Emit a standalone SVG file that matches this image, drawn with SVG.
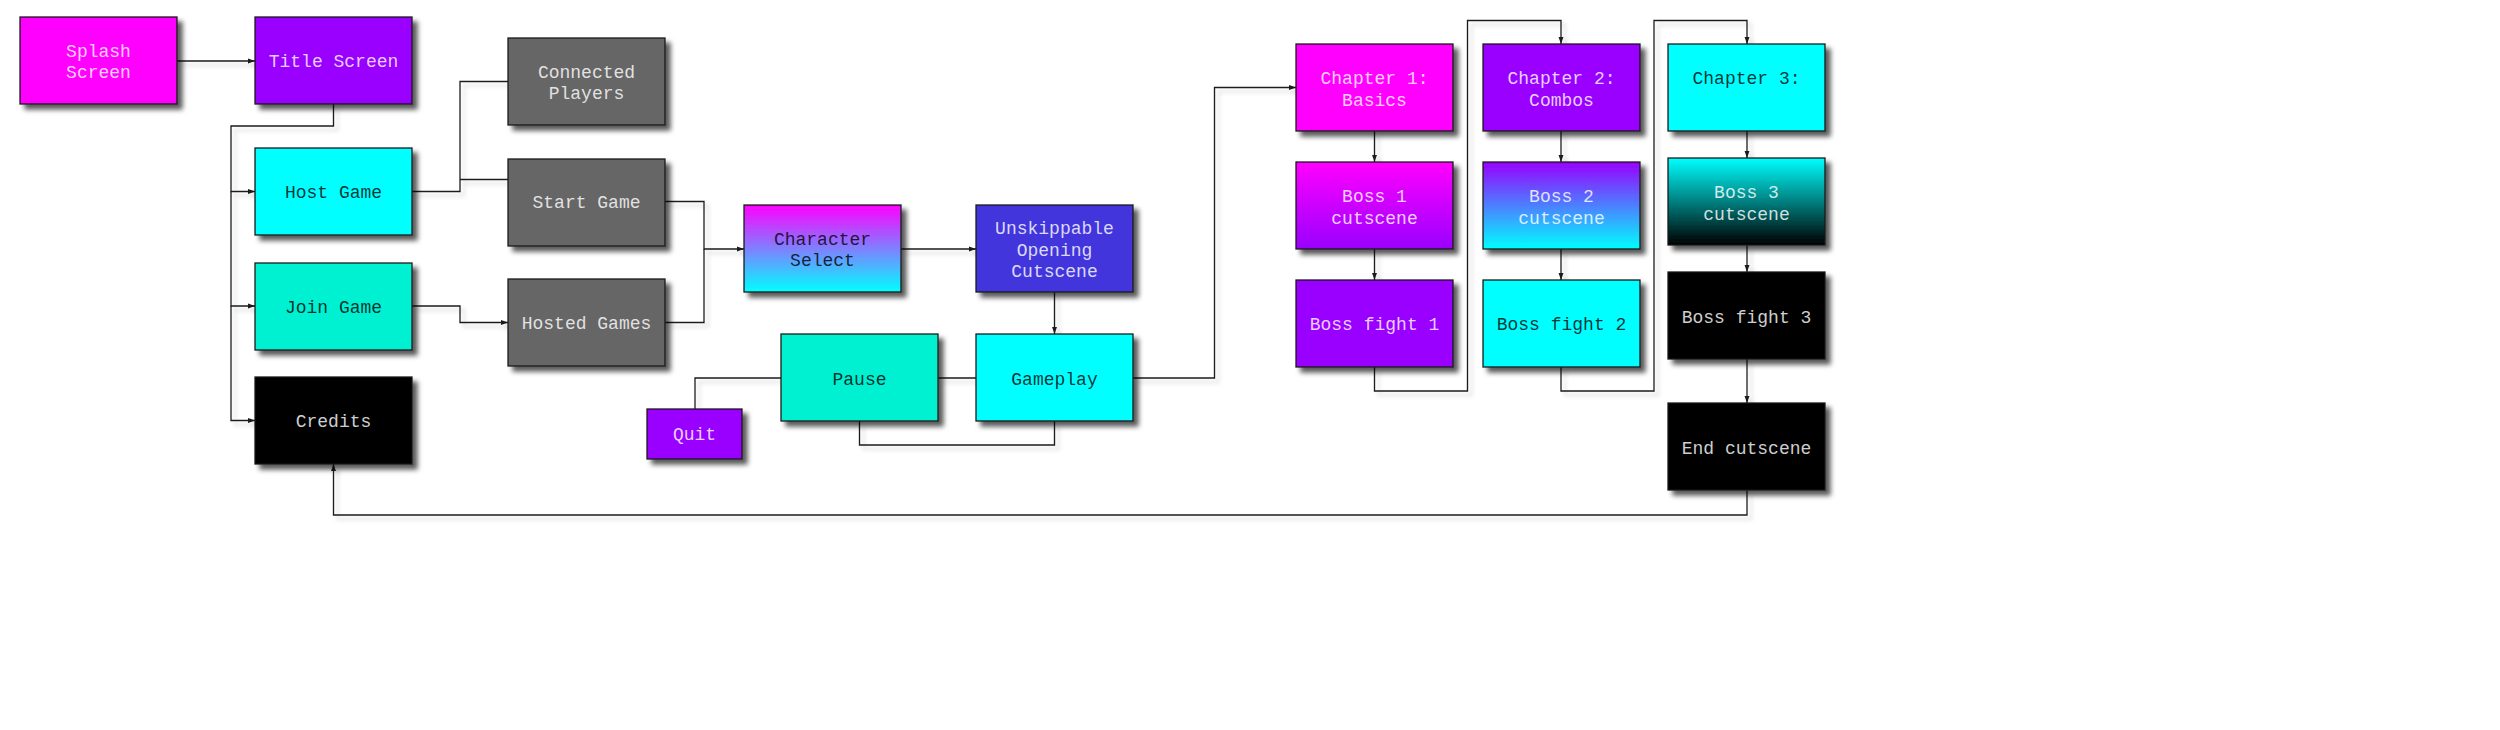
<svg xmlns="http://www.w3.org/2000/svg" width="2500" height="730" viewBox="0 0 2500 730">
<defs>
<style>
.box{stroke:#1a1a1a;stroke-width:1.3;filter:url(#sh)}
.t{font-family:"Liberation Mono","Courier New",monospace;font-size:18px;text-anchor:middle;dominant-baseline:central}
.lt{fill:#ffffff;fill-opacity:0.82}
.dk{fill:#000000;fill-opacity:0.8}
.c{fill:none;stroke:#1a1a1a;stroke-width:1.3}
.a{marker-end:url(#ar)}
</style>
<filter id="sh" x="-10%" y="-10%" width="130%" height="140%">
<feDropShadow dx="5" dy="5" stdDeviation="2.5" flood-color="#000" flood-opacity="0.65"/>
</filter>
<filter id="csh" x="-5%" y="-5%" width="110%" height="115%">
<feDropShadow dx="4" dy="4" stdDeviation="2" flood-color="#000" flood-opacity="0.18"/>
</filter>
<marker id="ar" viewBox="0 0 10 10" refX="10" refY="5" markerWidth="7" markerHeight="7" markerUnits="userSpaceOnUse" orient="auto">
<path d="M0,1.5 L10,5 L0,8.5 z" fill="#1a1a1a"/>
</marker>
<linearGradient id="gCS" x1="0" y1="0" x2="0" y2="1"><stop offset="0" stop-color="#ff00ff"/><stop offset="1" stop-color="#00ffff"/></linearGradient>
<linearGradient id="gB1" x1="0" y1="0" x2="0" y2="1"><stop offset="0" stop-color="#ff00ff"/><stop offset="1" stop-color="#9900ff"/></linearGradient>
<linearGradient id="gB2" x1="0" y1="0" x2="0" y2="1"><stop offset="0" stop-color="#9900ff"/><stop offset="1" stop-color="#00ffff"/></linearGradient>
<linearGradient id="gB3" x1="0" y1="0" x2="0" y2="1"><stop offset="0" stop-color="#00ffff"/><stop offset="1" stop-color="#000000"/></linearGradient>
</defs>
<rect width="2500" height="730" fill="#ffffff"/>

<g id="connectors" filter="url(#csh)">
<path class="c a" d="M177,61 H255"/>
<path class="c a" d="M333.5,104 V126 H231 V191.5 H255"/>
<path class="c a" d="M231,191.5 V306 H255"/>
<path class="c a" d="M231,306 V420.5 H255"/>
<path class="c" d="M412,191.5 H460 V81.5 H508"/>
<path class="c" d="M460,179.5 H508"/>
<path class="c a" d="M412,306 H460 V322.5 H508"/>
<path class="c a" d="M665,201.5 H704 V249 H744"/>
<path class="c" d="M665,322.5 H704 V249"/>
<path class="c a" d="M901,249 H976"/>
<path class="c a" d="M1054.5,292 V334"/>
<path class="c" d="M976,378 H938"/>
<path class="c" d="M781,378 H695 V409"/>
<path class="c" d="M859.5,421 V445 H1054.5 V421"/>
<path class="c a" d="M1133,378 H1214.5 V87.5 H1296"/>
<path class="c a" d="M1374.5,131 V162"/>
<path class="c a" d="M1374.5,249 V280"/>
<path class="c a" d="M1374.5,367 V391 H1467.5 V20.5 H1561 V44"/>
<path class="c a" d="M1561,131 V162"/>
<path class="c a" d="M1561,249 V280"/>
<path class="c a" d="M1561,367 V391 H1654 V20.5 H1747 V44"/>
<path class="c a" d="M1747,131 V158"/>
<path class="c a" d="M1747,245 V272"/>
<path class="c a" d="M1747,359 V403"/>
<path class="c a" d="M1747,490 V515 H333.5 V464"/>
</g>

<g id="splash"><rect class="box" x="20" y="17" width="157" height="87" fill="#ff00ff"/><text class="t lt" x="98.5" y="51.5">Splash</text><text class="t lt" x="98.5" y="73">Screen</text></g>
<g id="title"><rect class="box" x="255" y="17" width="157" height="87" fill="#9900ff"/><text class="t lt" x="333.5" y="62">Title Screen</text></g>
<g id="host"><rect class="box" x="255" y="148" width="157" height="87" fill="#00ffff"/><text class="t dk" x="333.5" y="193">Host Game</text></g>
<g id="join"><rect class="box" x="255" y="263" width="157" height="87" fill="#06f0d2"/><text class="t dk" x="333.5" y="307.5">Join Game</text></g>
<g id="credits"><rect class="box" x="255" y="377" width="157" height="87" fill="#000000"/><text class="t lt" x="333.5" y="422">Credits</text></g>
<g id="connected"><rect class="box" x="508" y="38" width="157" height="87" fill="#666666"/><text class="t lt" x="586.5" y="72.5">Connected</text><text class="t lt" x="586.5" y="94">Players</text></g>
<g id="start"><rect class="box" x="508" y="159" width="157" height="87" fill="#666666"/><text class="t lt" x="586.5" y="203">Start Game</text></g>
<g id="hosted"><rect class="box" x="508" y="279" width="157" height="87" fill="#666666"/><text class="t lt" x="586.5" y="323.5">Hosted Games</text></g>
<g id="charsel"><rect class="box" x="744" y="205" width="157" height="87" fill="url(#gCS)"/><text class="t dk" x="822.5" y="239.5">Character</text><text class="t dk" x="822.5" y="261">Select</text></g>
<g id="unskip"><rect class="box" x="976" y="205" width="157" height="87" fill="#4236dc"/><text class="t lt" x="1054.5" y="229">Unskippable</text><text class="t lt" x="1054.5" y="250.5">Opening</text><text class="t lt" x="1054.5" y="272">Cutscene</text></g>
<g id="gameplay"><rect class="box" x="976" y="334" width="157" height="87" fill="#00ffff"/><text class="t dk" x="1054.5" y="380">Gameplay</text></g>
<g id="pause"><rect class="box" x="781" y="334" width="157" height="87" fill="#06f0d2"/><text class="t dk" x="859.5" y="380">Pause</text></g>
<g id="quit"><rect class="box" x="647" y="409" width="95" height="50" fill="#9900ff"/><text class="t lt" x="694.5" y="435">Quit</text></g>
<g id="ch1"><rect class="box" x="1296" y="44" width="157" height="87" fill="#ff00ff"/><text class="t lt" x="1374.5" y="79">Chapter 1:</text><text class="t lt" x="1374.5" y="100.5">Basics</text></g>
<g id="boss1cs"><rect class="box" x="1296" y="162" width="157" height="87" fill="url(#gB1)"/><text class="t lt" x="1374.5" y="197">Boss 1</text><text class="t lt" x="1374.5" y="218.5">cutscene</text></g>
<g id="fight1"><rect class="box" x="1296" y="280" width="157" height="87" fill="#9900ff"/><text class="t lt" x="1374.5" y="325">Boss fight 1</text></g>
<g id="ch2"><rect class="box" x="1483" y="44" width="157" height="87" fill="#9900ff"/><text class="t lt" x="1561.5" y="79">Chapter 2:</text><text class="t lt" x="1561.5" y="100.5">Combos</text></g>
<g id="boss2cs"><rect class="box" x="1483" y="162" width="157" height="87" fill="url(#gB2)"/><text class="t lt" x="1561.5" y="197">Boss 2</text><text class="t lt" x="1561.5" y="218.5">cutscene</text></g>
<g id="fight2"><rect class="box" x="1483" y="280" width="157" height="87" fill="#00ffff"/><text class="t dk" x="1561.5" y="325">Boss fight 2</text></g>
<g id="ch3"><rect class="box" x="1668" y="44" width="157" height="87" fill="#00ffff"/><text class="t dk" x="1746.5" y="79">Chapter 3:</text></g>
<g id="boss3cs"><rect class="box" x="1668" y="158" width="157" height="87" fill="url(#gB3)"/><text class="t lt" x="1746.5" y="193">Boss 3</text><text class="t lt" x="1746.5" y="214.5">cutscene</text></g>
<g id="fight3"><rect class="box" x="1668" y="272" width="157" height="87" fill="#000000"/><text class="t lt" x="1746.5" y="317.5">Boss fight 3</text></g>
<g id="endcs"><rect class="box" x="1668" y="403" width="157" height="87" fill="#000000"/><text class="t lt" x="1746.5" y="449">End cutscene</text></g>
</svg>
